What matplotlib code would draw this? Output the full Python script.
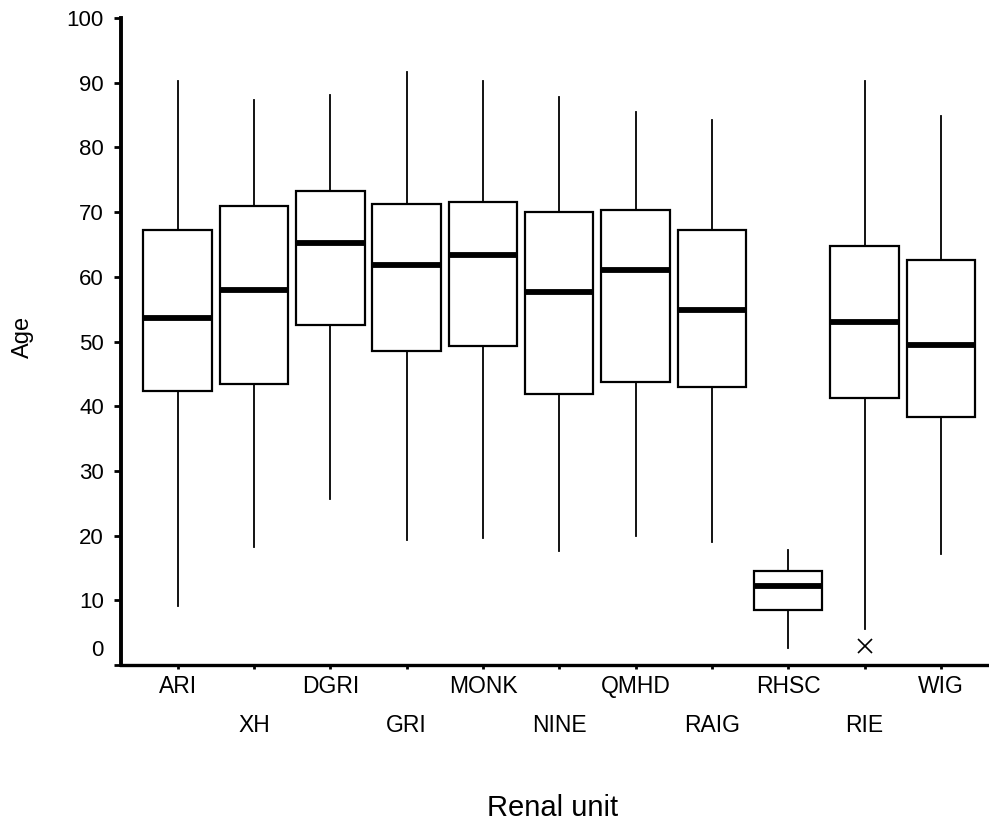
import matplotlib.pyplot as plt
import matplotlib.transforms as mtransforms
import numpy as np

plt.rcParams['font.family'] = ['Liberation Sans', 'DejaVu Sans']

# values
units = ['ARI', 'XH', 'DGRI', 'GRI', 'MONK', 'NINE', 'QMHD', 'RAIG', 'RHSC', 'RIE', 'WIG']
whislo = [9.1, 18.3, 25.6, 19.3, 19.7, 17.6, 20.0, 19.0, 2.7, 5.6, 17.2]
q1 = [42.3, 43.4, 52.5, 48.6, 49.3, 41.9, 43.7, 42.9, 8.5, 41.2, 38.4]
med = [53.7, 58.0, 65.3, 61.9, 63.3, 57.6, 61.1, 54.8, 12.2, 53.0, 49.5]
q3 = [67.3, 70.9, 73.2, 71.2, 71.5, 70.0, 70.4, 67.2, 14.5, 64.8, 62.6]
whishi = [90.25, 87.4, 88.1, 91.6, 90.25, 87.8, 85.4, 84.3, 17.7, 90.25, 84.9]
outliers = [[], [], [], [], [], [], [], [], [], [2.9], []]

stats = []
for i in range(len(units)):
    stats.append({'label': units[i], 'whislo': whislo[i], 'q1': q1[i], 'med': med[i],
                  'q3': q3[i], 'whishi': whishi[i], 'fliers': outliers[i]})

fig = plt.figure(figsize=(9.89, 8.27), dpi=100)
ax = fig.add_axes([120.5 / 989, 1 - 665 / 827, 1 - 120.5 / 989, (665 - 18) / 827])

pos = np.arange(len(units))
ax.bxp(stats, positions=pos, widths=0.896, showcaps=False, patch_artist=True,
       boxprops=dict(facecolor='white', edgecolor='black', linewidth=1.6),
       whiskerprops=dict(color='black', linewidth=1.3),
       medianprops=dict(color='black', linewidth=4.2, solid_capstyle='butt'),
       flierprops=dict(marker='x', markersize=10, markeredgecolor='black', markeredgewidth=1.2))

ax.set_xlim(-0.749, 10.63)
ax.set_ylim(0, 100)

ax.spines['top'].set_visible(False)
ax.spines['right'].set_visible(False)
ax.spines['left'].set_linewidth(2.8)
ax.spines['bottom'].set_linewidth(2.4)

ax.set_yticks(range(0, 101, 10))
ax.tick_params(axis='y', length=5, width=2, labelsize=16, pad=7)

# alternate x labels on two rows
ax.set_xticks(pos[::2])
ax.set_xticklabels(units[::2])
ax.set_xticks(pos[1::2], minor=True)
ax.set_xticklabels(units[1::2], minor=True)
ax.tick_params(axis='x', which='both', length=3, width=2, labelsize=16.5)
ax.tick_params(axis='x', which='major', pad=4)
ax.tick_params(axis='x', which='minor', pad=32)

# the 0 label sits a little above its tick
lbl0 = ax.get_yticklabels()[0]
lbl0.set_transform(lbl0.get_transform() + mtransforms.ScaledTranslation(0, 12 / 72, fig.dpi_scale_trans))

fig.text(553 / 989, 1 - 808 / 827, 'Renal unit', ha='center', va='center', fontsize=21)
fig.text(23 / 989, 1 - 337 / 827, 'Age', ha='center', va='center', rotation=90, fontsize=17)

plt.savefig('out.png', dpi=100)
